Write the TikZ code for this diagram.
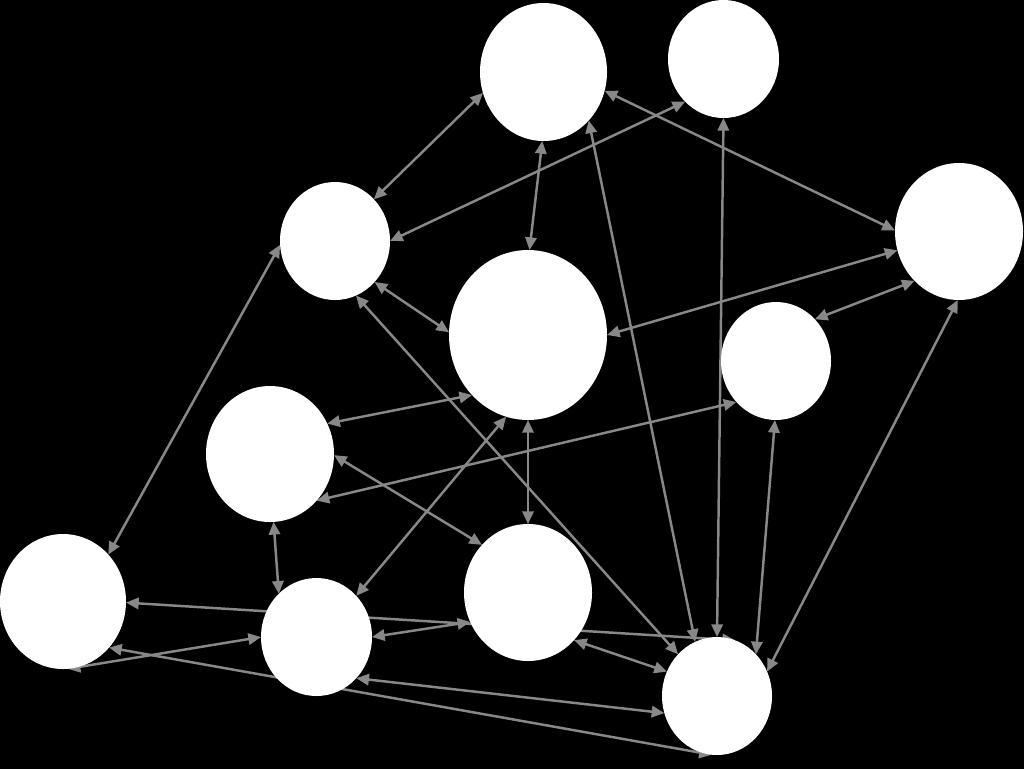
\documentclass[tikz,border=0pt]{standalone}
\usetikzlibrary{shapes.geometric,arrows.meta}
\pgfdeclarelayer{bg}
\pgfsetlayers{bg,main}
\definecolor{edgegray}{RGB}{136,136,136}
\begin{document}
\begin{tikzpicture}[x=0.75pt,y=-0.75pt,
  vtx/.style 2 args={ellipse,fill=white,draw=none,inner sep=0pt,outer sep=0pt,
    minimum width=#1pt,minimum height=#2pt},
  link/.style={draw=edgegray,line width=1.85pt,
    {Triangle[length=9.5pt,width=8.5pt]}-{Triangle[length=9.5pt,width=8.5pt]}}]
\useasboundingbox (0,0) rectangle (1024,769);
\begin{pgfonlayer}{bg}
\fill[black] (0,0) rectangle (1024,769);
\end{pgfonlayer}
\node[vtx={95.25}{103.5}]  (A) at (543.5,72) {};
\node[vtx={83.25}{88.5}]   (B) at (723.5,59) {};
\node[vtx={82.5}{88.5}]    (C) at (335,241) {};
\node[vtx={118.5}{127.5}]  (D) at (528,335) {};
\node[vtx={96}{102.75}]    (E) at (959,231.5) {};
\node[vtx={82.5}{88.5}]    (F) at (776,361) {};
\node[vtx={96}{102}]       (G) at (270,454) {};
\node[vtx={94.5}{101.25}]  (H) at (63,601.5) {};
\node[vtx={83.25}{88.5}]   (I) at (316.5,637) {};
\node[vtx={96}{102.75}]    (J) at (528,592.5) {};
\node[vtx={82.5}{88.5}]    (K) at (717,696) {};
\begin{pgfonlayer}{bg}
\draw[link] (A.-161) -- (C.47);
\draw[link] (B.-132) -- (C.0);
\draw[link] (A.-91) -- (D.89);
\draw[link] (A.-47) -- (K.112);
\draw[link] (A.-17.5) -- (E.179);
\draw[link] (B.-90) -- (K.90);
\draw[link] (C.-46) -- (D.178.6);
\draw[link] (C.-69) -- (K.133);
\draw[link] (E.-163) -- (D.0);
\draw[link] (E.-132) -- (F.47);
\draw[link] (E.-91) -- (K.26.6);
\draw[link] (G.28) -- (D.-133);
\draw[link] (F.-134) -- (G.-45.6);
\draw[link] (G.-1) -- (J.134);
\draw[link] (D.-105.5) -- (I.46.7);
\draw[link] (D.-90) -- (J.90);
\draw[link] (G.-87.6) -- (I.131);
\draw[link] (C.-176) -- (H.46.5);
\draw[link] (F.-91) -- (K.47.7);
\draw[link] (H.-1.3) -- (K.72);
\draw[link] (H.-86) -- (I.180);
\draw[link] (I.0) -- (J.-153);
\draw[link] (J.-46.5) -- (K.154);
\draw[link] (I.-46) -- (K.-162);
\draw[link] (H.-45.3) -- (K.-95);
\end{pgfonlayer}
\end{tikzpicture}
\end{document}
